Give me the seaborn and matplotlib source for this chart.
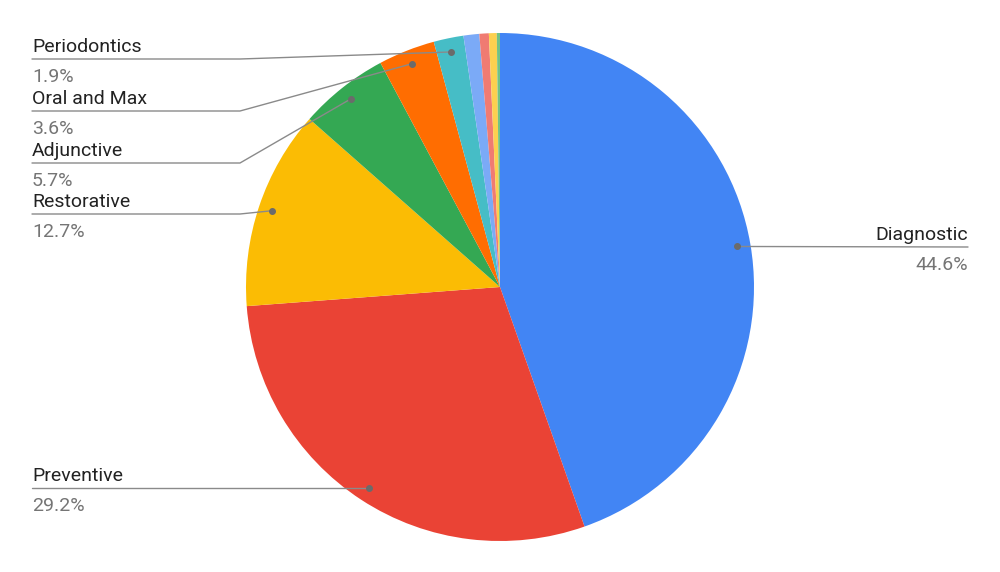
import matplotlib.pyplot as plt
import numpy as np
import seaborn as sns

# slice data, clockwise from 12 o'clock
categories = ["Diagnostic", "Preventive", "Restorative", "Adjunctive", "Oral and Max",
              "Periodontics", "Other 1", "Other 2", "Other 3", "Other 4"]
shares = [44.6, 29.2, 12.7, 5.7, 3.6, 1.9, 1.0, 0.6, 0.5, 0.2]
labelled = ["Diagnostic", "Preventive", "Restorative", "Adjunctive", "Oral and Max", "Periodontics"]

COLORS = ["#4285F4", "#EA4335", "#FBBC04", "#34A853", "#FF6D01",
          "#46BDC6", "#7BAAF7", "#F07B72", "#FCD04F", "#71C287"]

# label layout in pixel coords (x, y of separator line, side)
LABEL_POS = {
    "Diagnostic": (968, 247, "right"),
    "Preventive": (32, 488, "left"),
    "Restorative": (32, 214, "left"),
    "Adjunctive": (32, 163, "left"),
    "Oral and Max": (32, 111, "left"),
    "Periodontics": (32, 59, "left"),
}

W, H = 1000, 572
CENTER = (500, H - 287)
RADIUS = 254

sns.set_theme(style="white")
plt.rcParams["font.family"] = ["Roboto", "DejaVu Sans"]

fig = plt.figure(figsize=(W / 100, H / 100), dpi=100, facecolor="white")
ax = fig.add_axes([0, 0, 1, 1])

wedges, _ = ax.pie(
    shares,
    colors=sns.color_palette(COLORS),
    startangle=90,
    counterclock=False,
    center=CENTER,
    radius=RADIUS,
    wedgeprops={"linewidth": 0},
    frame=True,
)
ax.set_xlim(0, W)
ax.set_ylim(0, H)
ax.set_aspect("equal")
ax.axis("off")

line_color = "#8a8a8a"
for name, share, wedge in zip(categories, shares, wedges):
    if name not in labelled:
        continue
    mid = np.deg2rad((wedge.theta1 + wedge.theta2) / 2)
    dx = CENTER[0] + 0.945 * RADIUS * np.cos(mid)
    dy = CENTER[1] + 0.945 * RADIUS * np.sin(mid)
    lx, ly_px, side = LABEL_POS[name]
    ly = H - ly_px
    if side == "right":
        ax.plot([dx, lx], [dy, ly], color=line_color, lw=1)
        ha = "right"
    else:
        knee = 240 if abs(dy - ly) > 3 else dx
        ax.plot([lx, knee, dx], [ly, ly, dy], color=line_color, lw=1)
        ha = "left"
    ax.plot(dx, dy, "o", color="#6b6b6b", ms=4)
    ax.text(lx, ly + 3, name, ha=ha, va="bottom", fontsize=14, color="#222222")
    ax.text(lx, ly - 9, f"{share:.1f}%", ha=ha, va="top", fontsize=14, color="#757575")

fig.savefig("out.png", dpi=100, facecolor="white")
